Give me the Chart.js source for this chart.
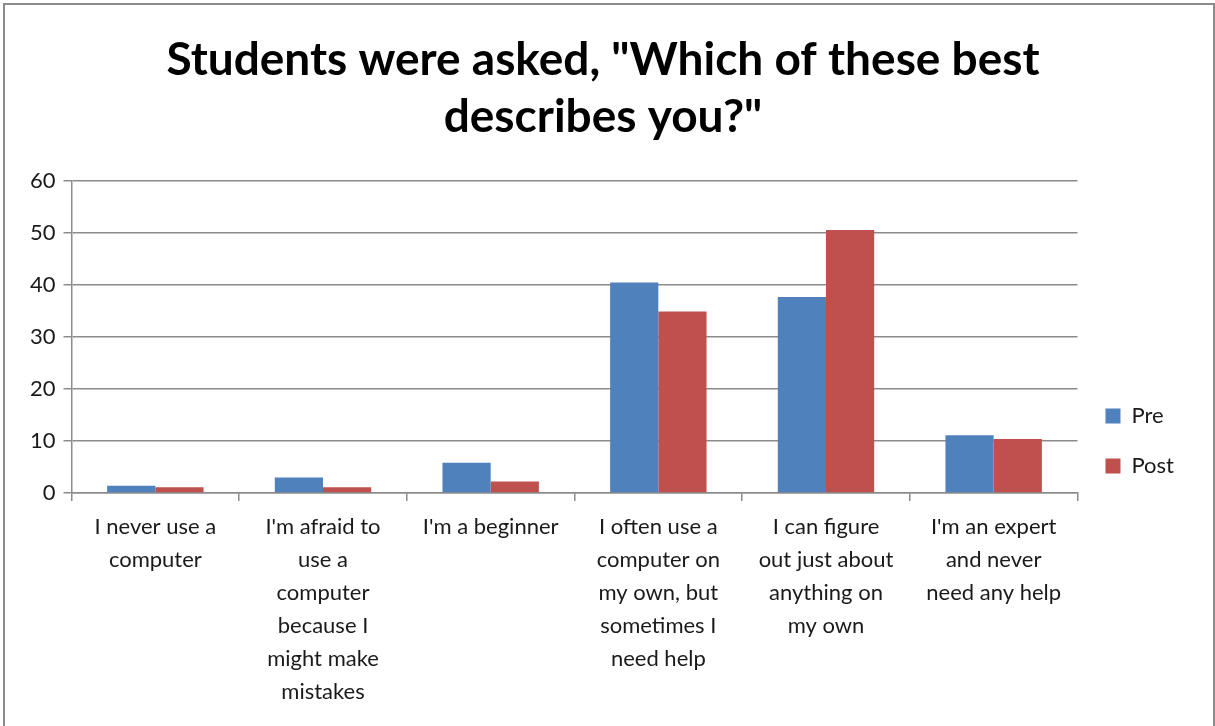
<!DOCTYPE html>
<html>
<head>
<meta charset="utf-8">
<script src="https://cdn.jsdelivr.net/npm/chart.js@4.4.1/dist/chart.umd.min.js"></script>
<style>
  html, body { margin: 0; padding: 0; background: #fff; overflow: hidden; }
  .caixa {
    position: absolute; left: 3px; top: 3px;
    width: 1208px; height: 730px;
    border: 2px solid #8c8c8c;
    background: #fff;
  }
  canvas { display: block; }
</style>
</head>
<body>
<div class="caixa">
  <canvas id="grafico" width="1208" height="720"></canvas>
</div>
<script>
// dados
const categorias = [
  ["I never use a", "computer"],
  ["I'm afraid to", "use a", "computer", "because I", "might make", "mistakes"],
  ["I'm a beginner"],
  ["I often use a", "computer on", "my own, but", "sometimes I", "need help"],
  ["I can figure", "out just about", "anything on", "my own"],
  ["I'm an expert", "and never", "need any help"]
];
const valoresPre = [1.4, 3.0, 5.8, 40.5, 37.7, 11.1];
const valoresPost = [1.1, 1.1, 2.2, 34.9, 50.6, 10.4];
const tituloLinhas = ['Students were asked, "Which of these best', 'describes you?"'];

const fonte = "Lato, 'Open Sans', sans-serif";
const corTexto = '#1a1a1a';
const corGrade = '#8c8c8c';

const content = document.getElementById('grafico');
new Chart(content, {
  type: 'bar',
  data: {
    labels: categorias,
    datasets: [
      {
        label: 'Pre',
        data: valoresPre,
        backgroundColor: '#4f81bd',
        borderWidth: 0
      },
      {
        label: 'Post',
        data: valoresPost,
        backgroundColor: '#c0504d',
        borderWidth: 0
      }
    ]
  },
  options: {
    responsive: false,
    animation: false,
    categoryPercentage: 0.575,
    barPercentage: 1.0,
    layout: {
      padding: { left: 17, right: 29, top: 0, bottom: 8 }
    },
    plugins: {
      title: {
        display: true,
        text: tituloLinhas,
        color: '#000',
        font: { family: fonte, size: 46, weight: 'bold', lineHeight: 1.24 },
        padding: { top: 27, bottom: 35 }
      },
      legend: {
        display: true,
        position: 'right',
        align: 'center',
        // titulo vazio so para empurrar a legenda para baixo
        title: {
          display: true,
          text: ' ',
          font: { family: fonte, size: 16, lineHeight: 1.25 },
          padding: { top: 0, bottom: 140 }
        },
        labels: {
          color: corTexto,
          font: { family: fonte, size: 22 },
          boxWidth: 15,
          boxHeight: 15,
          padding: 28
        }
      },
      tooltip: { enabled: false }
    },
    scales: {
      x: {
        grid: {
          display: true,
          drawOnChartArea: false,
          drawTicks: true,
          tickLength: 8,
          color: corGrade,
          lineWidth: 1.5
        },
        border: { display: true, color: corGrade, width: 1.5 },
        ticks: {
          color: corTexto,
          font: { family: fonte, size: 22, lineHeight: 1.5 },
          maxRotation: 0,
          autoSkip: false,
          padding: 9
        }
      },
      y: {
        min: 0,
        max: 60,
        ticks: {
          stepSize: 10,
          color: corTexto,
          font: { family: fonte, size: 22 },
          padding: 8
        },
        grid: {
          color: corGrade,
          lineWidth: 1.5,
          tickLength: 8
        },
        border: { display: true, color: corGrade, width: 1.5 }
      }
    }
  }
});
</script>
</body>
</html>
